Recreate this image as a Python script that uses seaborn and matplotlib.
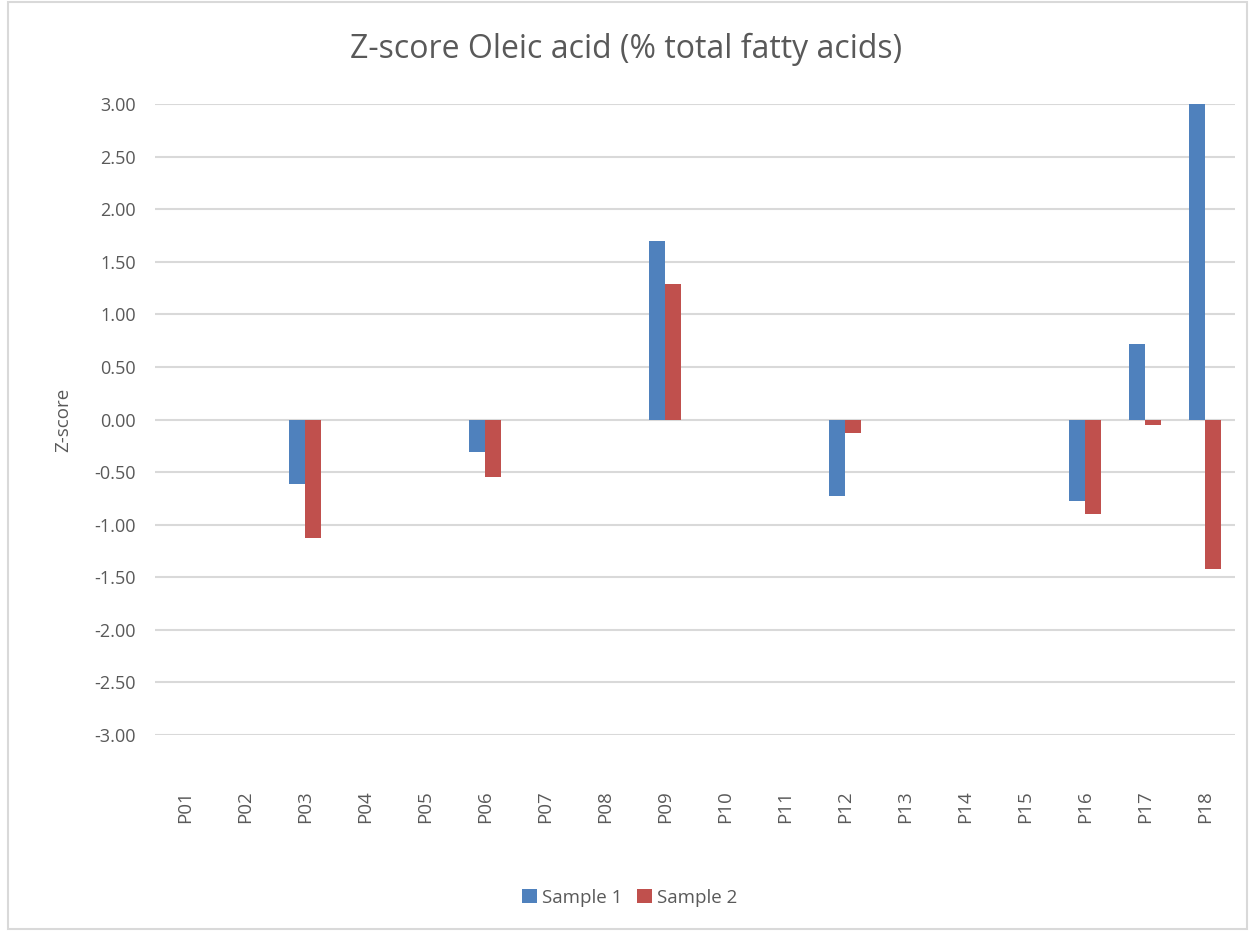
import numpy as np
import pandas as pd
import matplotlib
matplotlib.use('Agg')
import matplotlib.pyplot as plt
import seaborn as sns

# values (NaN = no result reported)
participants = ['P%02d' % i for i in range(1, 19)]
sample1 = [np.nan, np.nan, -0.61, np.nan, np.nan, -0.31, np.nan, np.nan, 1.70,
           np.nan, np.nan, -0.73, np.nan, np.nan, np.nan, -0.77, 0.72, 3.00]
sample2 = [np.nan, np.nan, -1.13, np.nan, np.nan, -0.55, np.nan, np.nan, 1.29,
           np.nan, np.nan, -0.13, np.nan, np.nan, np.nan, -0.90, -0.05, -1.42]
series_names = ['Sample 1', 'Sample 2']
colors = ['#4F81BD', '#C0504D']
yticks = np.arange(-3.0, 3.01, 0.5)

df = pd.DataFrame({
    'Participant': participants * 2,
    'Sample': [series_names[0]] * 18 + [series_names[1]] * 18,
    'Z': sample1 + sample2,
})

sns.set_style('white')
plt.rcParams['font.family'] = ['Open Sans', 'DejaVu Sans']
grey = '#595959'

fig = plt.figure(figsize=(12.52, 9.33), dpi=100)
ax = fig.add_axes([0.1238, 0.2122, 0.8626, 0.6763])

sns.barplot(data=df, x='Participant', y='Z', hue='Sample', order=participants,
            palette=colors, width=0.52, errorbar=None, ax=ax, saturation=1,
            linewidth=0, legend=True)

ax.set_ylim(-3.0, 3.0)
ax.set_yticks(yticks)
ax.set_yticklabels(['%.2f' % v for v in yticks], color=grey, fontsize=13)
ax.yaxis.grid(True, color='#D9D9D9', linewidth=1.5)
ax.set_axisbelow(True)
for s in ax.spines.values():
    s.set_visible(False)
ax.tick_params(axis='y', length=0, pad=14)
ax.tick_params(axis='x', length=0, pad=40, labelrotation=90, labelcolor=grey,
               labelsize=13.5)
ax.set_xlabel('')
ax.set_ylabel('Z-score', color=grey, fontsize=13.5, labelpad=16)

fig.text(0.5, 0.947, 'Z-score Oleic acid (% total fatty acids)',
         ha='center', va='center', color=grey, fontsize=23)

handles, labels = ax.get_legend_handles_labels()
ax.get_legend().remove()
fig.legend(handles, labels, loc='center', bbox_to_anchor=(0.503, 0.038), ncol=2,
           frameon=False, fontsize=13.5, handlelength=0.8, handleheight=0.8,
           handletextpad=0.25, columnspacing=0.8, labelcolor=grey)

# light chart frame like the spreadsheet chart area
fig.patches.append(plt.Rectangle((0.006, 0.004), 0.99, 0.994,
                                 transform=fig.transFigure, fill=False,
                                 edgecolor='#D9D9D9', linewidth=1.5))

fig.savefig('out.png', dpi=100, facecolor='white')
